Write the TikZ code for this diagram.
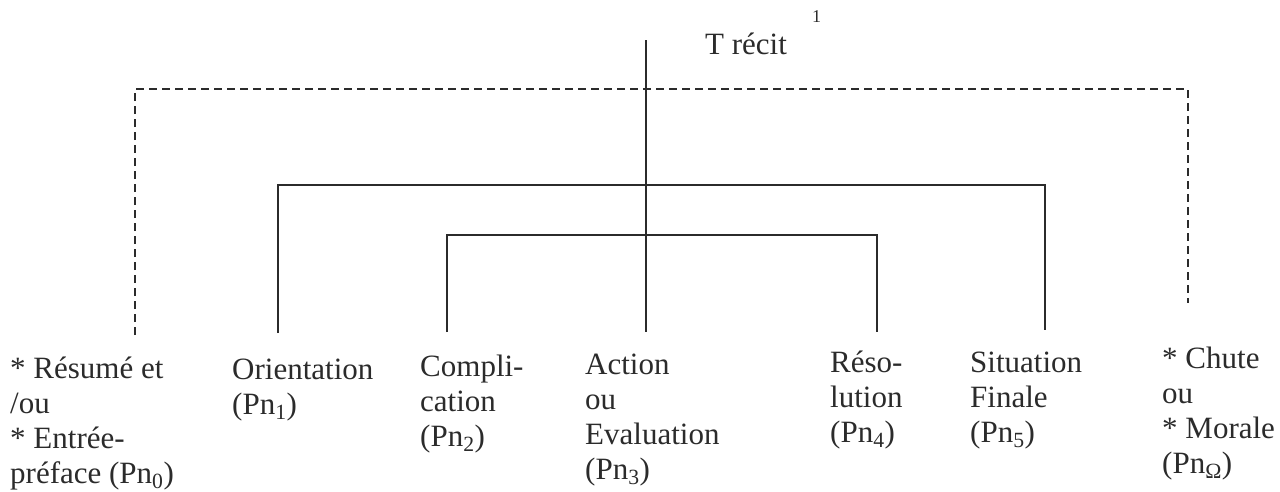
\documentclass[tikz,border=0pt]{standalone}
\usepackage{fontspec}
\setmainfont{Liberation Serif}
\definecolor{ink}{HTML}{2B2B2B}
\begin{document}
\begin{tikzpicture}[x=1pt,y=-1pt,
  lbl/.style={anchor=base west, inner sep=0pt, align=left, text=ink, font=\fontsize{31}{35}\selectfont},
  tree/.style={draw=ink, line width=1.6pt},
  opt/.style={draw=ink, line width=1.6pt, dash pattern=on 8pt off 5pt}]
\useasboundingbox (0,0) rectangle (1280,491);
% title
\node[lbl] (title) at (705,54) {T récit};
\node[lbl, font=\fontsize{18}{20}\selectfont] (note) at (812,22) {1};
% leaves (anchor = baseline of the last line)
\node[lbl] (n0) at (10,483) {* Résumé et\\/ou\\* Entrée-\\préface (Pn\textsubscript{0})};
\node[lbl] (n1) at (232,414) {Orientation\\(Pn\textsubscript{1})};
\node[lbl] (n2) at (420,446) {Compli-\\cation\\(Pn\textsubscript{2})};
\node[lbl] (n3) at (585,479) {Action\\ou\\Evaluation\\(Pn\textsubscript{3})};
\node[lbl] (n4) at (830,442) {Réso-\\lution\\(Pn\textsubscript{4})};
\node[lbl] (n5) at (970,442) {Situation\\Finale\\(Pn\textsubscript{5})};
\node[lbl] (nO) at (1162,473) {* Chute\\ou\\* Morale\\(Pn\textsubscript{Ω})};
% connector ends
\coordinate (top) at (646,40);
\coordinate (mid) at (646,332);
\coordinate (dt) at (646,89);
\coordinate (d0) at (135,335);
\coordinate (dO) at (1188,303);
\coordinate (ot) at (646,185);
\coordinate (o1) at (278,333);
\coordinate (o5) at (1045,330);
\coordinate (it) at (646,235);
\coordinate (i2) at (447,332);
\coordinate (i4) at (877,332);
% connectors
\draw[tree] (top) -- (mid);
\draw[opt] (d0) |- (dt) -| (dO);
\draw[tree] (o1) |- (ot) -| (o5);
\draw[tree] (i2) |- (it) -| (i4);
\end{tikzpicture}
\end{document}
